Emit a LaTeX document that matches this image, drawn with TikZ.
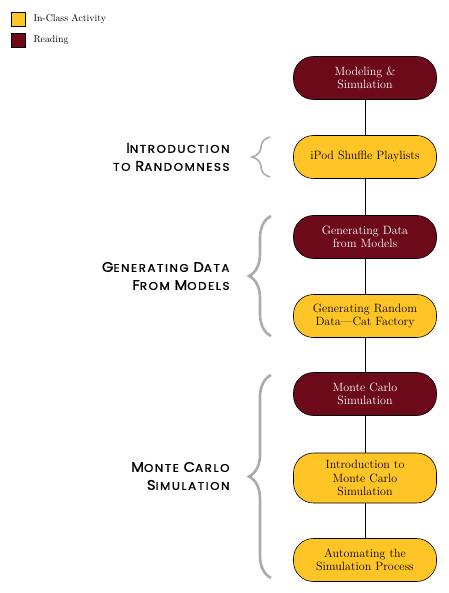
\documentclass[tikz,border=0pt]{standalone}
\usepackage{fontspec}
\newfontfamily\topicfont[LetterSpace=14,FakeStretch=1.06,FakeBold=1.3]{Poppins}
\usetikzlibrary{positioning,decorations.pathreplacing}
\definecolor{gold}{HTML}{FFC425}
\definecolor{maroon}{HTML}{6D0A1A}
\definecolor{bracegray}{HTML}{ABABAB}
% fake small caps for the topic labels
\newcommand\capword[2]{{\fontsize{14}{18}\selectfont #1}{\fontsize{11.2}{18}\selectfont #2}}
\tikzset{
  card/.style={draw=black, line width=0.6pt, rounded corners=20pt,
    minimum width=143pt, minimum height=43pt, text width=130pt,
    align=center, inner sep=2pt, font=\fontsize{12}{13.5}\selectfont},
  reading/.style={card, fill=maroon, text=white},
  activity/.style={card, fill=gold, text=black},
  topic/.style={anchor=east, align=right, font=\topicfont\fontsize{11.2}{18}\selectfont},
  curly/.style={draw=bracegray, decorate, decoration={brace, amplitude=#1},
    line width=2.6pt},
  key/.style={draw=black, line width=0.6pt, minimum size=14pt, inner sep=0pt},
  keytext/.style={font=\fontsize{9.8}{11}\selectfont, inner sep=0pt}
}
\begin{document}
\begin{tikzpicture}[x=1pt, y=-1pt]
  \useasboundingbox (0,0) rectangle (448,593);
  % Legend
  \node[key, fill=gold] (keyact) at (18,19) {};
  \node[keytext, right=8pt of keyact] (keyacttext) {In-Class Activity};
  \node[key, fill=maroon] (keyread) at (18,40) {};
  \node[keytext, right=8pt of keyread] (keyreadtext) {Reading};
  % Chain of sessions
  \node[reading] (model) at (365,78) {Modeling \&\\Simulation};
  \node[activity] (ipod) at (365,157) {iPod Shuffle Playlists};
  \node[reading] (gendata) at (365,237) {Generating Data\\from Models};
  \node[activity] (catfac) at (365,316) {Generating Random\\Data---Cat Factory};
  \node[reading] (mcsim) at (365,394) {Monte Carlo\\Simulation};
  \node[activity, minimum height=50pt] (intromc) at (365,478) {Introduction to\\Monte Carlo\\Simulation};
  \node[activity] (automate) at (365,560) {Automating the\\Simulation Process};
  \foreach \a/\b in {model/ipod, ipod/gendata, gendata/catfac, catfac/mcsim, mcsim/intromc, intromc/automate} {
    \draw[line width=0.6pt] (\a) -- (\b);
  }
  % Braces
  \draw[curly=18pt, line width=1.6pt] (270,177) -- (270,137);
  \draw[curly=22pt] (271,336) -- (271,216);
  \draw[curly=22pt] (271,578) -- (271,375);
  % Topic labels
  \node[topic] (randlabel) at (233,157) {\capword{I}{NTRODUCTION}\\TO \capword{R}{ANDOMNESS}};
  \node[topic] (genlabel) at (233,276) {\capword{G}{ENERATING} \capword{D}{ATA}\\\capword{F}{ROM} \capword{M}{ODELS}};
  \node[topic] (mclabel) at (233,476) {\capword{M}{ONTE} \capword{C}{ARLO}\\\capword{S}{IMULATION}};
\end{tikzpicture}
\end{document}
